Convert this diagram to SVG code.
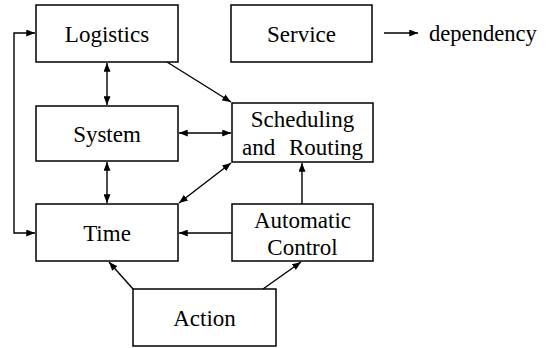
<svg xmlns="http://www.w3.org/2000/svg" width="547" height="348" viewBox="0 0 547 348">
  <style>
    .box { fill: #fff; stroke: #000; stroke-width: 1.5; }
    .lbl { font-family: "Liberation Serif", "Times New Roman", serif; font-size: 23px; fill: #000; text-anchor: middle; }
    .note { font-family: "Liberation Serif", "Times New Roman", serif; font-size: 22.6px; fill: #000; }
    .edge { fill: none; stroke: #000; stroke-width: 1.4; }
  </style>
  <defs>
    <marker id="head" viewBox="0 0 10 8" refX="10" refY="4" markerWidth="9" markerHeight="7" markerUnits="userSpaceOnUse" orient="auto-start-reverse">
      <path d="M0,0 L10,4 L0,8 Z" fill="#000"/>
    </marker>
  </defs>
  <rect width="547" height="348" fill="#fff"/>

  <g id="connectors">
    <!-- Logistics <-> System -->
    <line class="edge" x1="107" y1="63" x2="107" y2="105" marker-start="url(#head)" marker-end="url(#head)"/>
    <!-- System <-> Time -->
    <line class="edge" x1="107" y1="162" x2="107" y2="203" marker-start="url(#head)" marker-end="url(#head)"/>
    <!-- feedback loop on the left: Logistics <-> Time -->
    <polyline class="edge" points="35,33 14,33 14,233 35,233" marker-start="url(#head)" marker-end="url(#head)"/>
    <!-- Logistics -> Scheduling and Routing -->
    <line class="edge" x1="167" y1="62" x2="231" y2="102" marker-end="url(#head)"/>
    <!-- System <-> Scheduling and Routing -->
    <line class="edge" x1="179" y1="133" x2="231" y2="133" marker-start="url(#head)" marker-end="url(#head)"/>
    <!-- Scheduling and Routing <-> Time -->
    <line class="edge" x1="231" y1="163" x2="179" y2="203" marker-start="url(#head)" marker-end="url(#head)"/>
    <!-- Automatic Control -> Scheduling and Routing -->
    <line class="edge" x1="302" y1="204" x2="302" y2="163" marker-end="url(#head)"/>
    <!-- Automatic Control -> Time -->
    <line class="edge" x1="232" y1="233" x2="179" y2="233" marker-end="url(#head)"/>
    <!-- Action -> Time -->
    <line class="edge" x1="133" y1="289" x2="109" y2="262" marker-end="url(#head)"/>
    <!-- Action -> Automatic Control -->
    <line class="edge" x1="263" y1="289" x2="301" y2="262" marker-end="url(#head)"/>
    <!-- legend arrow -->
    <line class="edge" x1="384" y1="33" x2="418" y2="33" marker-end="url(#head)"/>
  </g>

  <g id="logistics">
    <rect class="box" x="36" y="5" width="142" height="57"/>
    <text class="lbl" x="107" y="42">Logistics</text>
  </g>
  <g id="service">
    <rect class="box" x="231" y="5" width="141" height="57"/>
    <text class="lbl" x="301.5" y="42">Service</text>
  </g>
  <g id="legend">
    <text class="note" x="429" y="41">dependency</text>
  </g>
  <g id="system">
    <rect class="box" x="36" y="106" width="142" height="55"/>
    <text class="lbl" x="107" y="141.5">System</text>
  </g>
  <g id="scheduling-routing">
    <rect class="box" x="232" y="103" width="141" height="59"/>
    <text class="lbl" x="302.5" y="127">Scheduling</text>
    <text class="lbl" x="302.5" y="155" word-spacing="8">and Routing</text>
  </g>
  <g id="time">
    <rect class="box" x="36" y="204" width="142" height="57"/>
    <text class="lbl" x="107" y="241">Time</text>
  </g>
  <g id="automatic-control">
    <rect class="box" x="232" y="204" width="141" height="57"/>
    <text class="lbl" x="302.5" y="228">Automatic</text>
    <text class="lbl" x="302.5" y="255">Control</text>
  </g>
  <g id="action">
    <rect class="box" x="133" y="289" width="143" height="57"/>
    <text class="lbl" x="204.5" y="326">Action</text>
  </g>
</svg>
